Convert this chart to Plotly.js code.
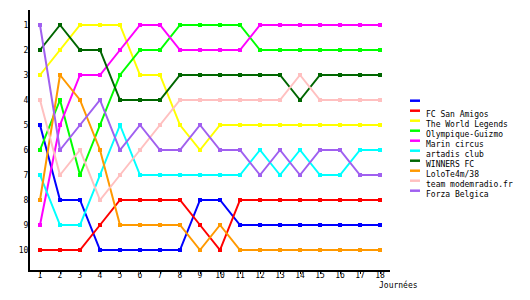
<!DOCTYPE html>
<html>
<head>
<meta charset="utf-8">
<script src="https://cdn.plot.ly/plotly-3.0.1.min.js"></script>
<style>html,body{margin:0;padding:0;background:#fff;}#chart{width:530px;height:300px;}</style>
</head>
<body>
<div id="chart"></div>
<script>
var journees = [1,2,3,4,5,6,7,8,9,10,11,12,13,14,15,16,17,18];
var rankTicks = [1,2,3,4,5,6,7,8,9,10];
var names = ["", "FC San Amigos", "The World Legends", "Olympique-Guizmo", "Marin circus", "artadis club", "WINNERS FC", "LoloTe4m/38", "team modemradio.fr", "Forza Belgica"];
var colors = ["#0000FF", "#FF0000", "#FFFF00", "#00FF00", "#FF00FF", "#00FFFF", "#006600", "#FF9900", "#FFC0C0", "#A060F0"];

var blueTeam      = [5,8,8,10,10,10,10,10,8,8,9,9,9,9,9,9,9,9];
var fcSanAmigos   = [10,10,10,9,8,8,8,8,9,10,8,8,8,8,8,8,8,8];
var worldLegends  = [3,2,1,1,1,3,3,5,6,5,5,5,5,5,5,5,5,5];
var olympique     = [6,4,7,5,3,2,2,1,1,1,1,2,2,2,2,2,2,2];
var marinCircus   = [9,5,3,3,2,1,1,2,2,2,2,1,1,1,1,1,1,1];
var artadisClub   = [7,9,9,7,5,7,7,7,7,7,7,6,7,6,7,7,6,6];
var winnersFC     = [2,1,2,2,4,4,4,3,3,3,3,3,3,4,3,3,3,3];
var lolo          = [8,3,4,6,9,9,9,9,10,9,10,10,10,10,10,10,10,10];
var modemradio    = [4,7,6,8,7,6,5,4,4,4,4,4,4,3,4,4,4,4];
var forzaBelgica  = [1,6,5,4,6,5,6,6,5,6,6,7,6,7,6,6,7,7];

var series = [blueTeam, fcSanAmigos, worldLegends, olympique, marinCircus, artadisClub, winnersFC, lolo, modemradio, forzaBelgica];

var FONT = "DejaVu Sans Mono";
var traces = series.map(function(vals, i){
  return {
    x: journees, y: vals, name: names[i], type: "scatter", mode: "lines+markers",
    line: {color: colors[i], width: 2},
    marker: {color: colors[i], size: 4, symbol: "square"},
    showlegend: false, hoverinfo: "skip"
  };
});

// plot area in px: left 30, right 390, top 10, bottom 270
function px2paperX(p){ return (p - 30) / 360; }
function px2paperY(p){ return (270 - p) / 260; }

var shapes = [], annotations = [];
names.forEach(function(n, i){
  var ly = 100.7 + 10 * i;
  shapes.push({type: "line", xref: "paper", yref: "paper",
    x0: px2paperX(410), x1: px2paperX(420), y0: px2paperY(ly), y1: px2paperY(ly),
    line: {color: colors[i], width: 2.5}});
  if (n) {
    annotations.push({xref: "paper", yref: "paper", x: px2paperX(424), y: px2paperY(ly + 3.6),
      xanchor: "left", yanchor: "middle", showarrow: false, text: n,
      font: {family: FONT, size: 8, color: "#000"}});
  }
});
annotations.push({xref: "paper", yref: "paper", x: px2paperX(399), y: px2paperY(285),
  xanchor: "center", yanchor: "middle", showarrow: false, text: "Journées",
  font: {family: FONT, size: 8, color: "#000"}});

var layout = {
  width: 530, height: 300,
  margin: {l: 30, r: 140, t: 10, b: 30, pad: 0},
  paper_bgcolor: "#fff", plot_bgcolor: "#fff",
  showlegend: false,
  font: {family: FONT, size: 8, color: "#000"},
  xaxis: {range: [0.5, 18.5], tickvals: journees, ticktext: journees.map(String),
    showgrid: false, zeroline: false, showline: true, linecolor: "#000", linewidth: 2,
    ticks: "outside", ticklen: 2, tickwidth: 1, tickcolor: "#000", fixedrange: true,
    ticklabelstandoff: -6,
    tickfont: {family: FONT, size: 8, color: "#000"}},
  yaxis: {range: [10.8, 0.4], tickvals: rankTicks, ticktext: rankTicks.map(String),
    showgrid: false, zeroline: false, showline: true, linecolor: "#000", linewidth: 2,
    ticks: "", fixedrange: true, ticklabelstandoff: -2,
    tickfont: {family: FONT, size: 8, color: "#000"}},
  shapes: shapes,
  annotations: annotations
};

Plotly.newPlot("chart", traces, layout, {displayModeBar: false, staticPlot: true});
</script>
</body>
</html>
